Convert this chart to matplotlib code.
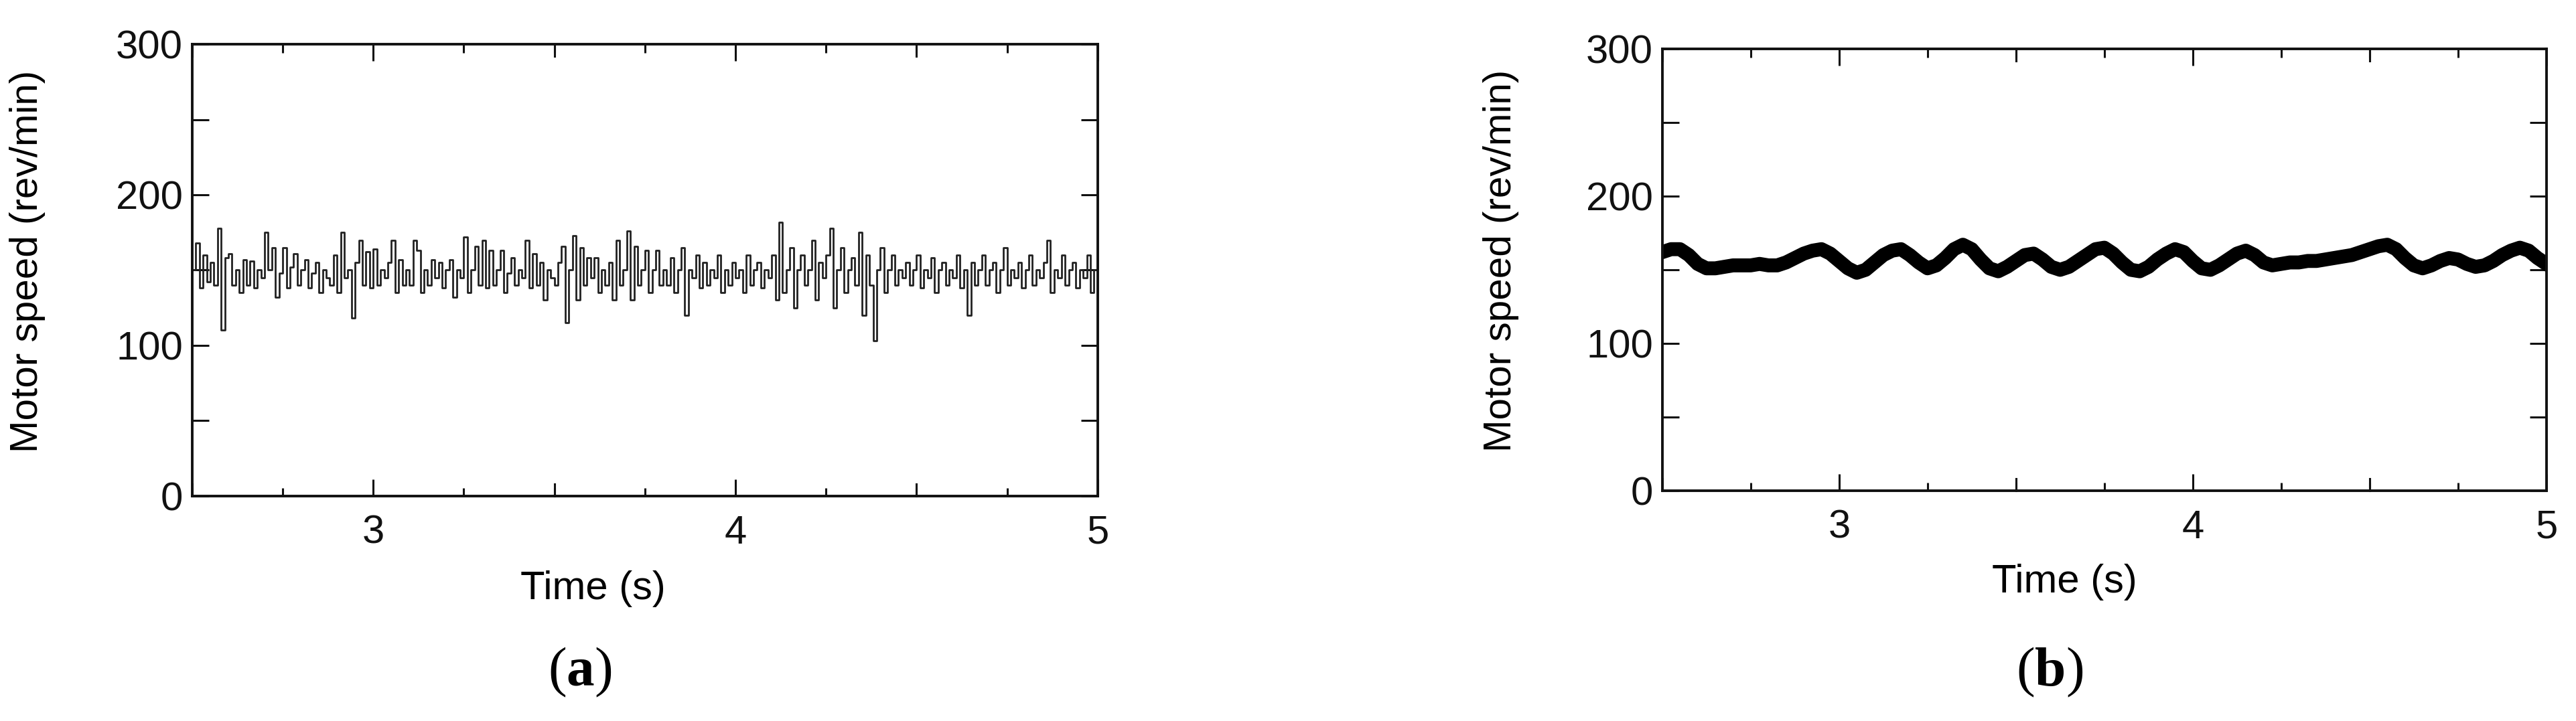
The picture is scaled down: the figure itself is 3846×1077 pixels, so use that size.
import matplotlib.pyplot as plt
from matplotlib.ticker import MultipleLocator, FixedLocator

# (a) motor speed, step samples every 0.01 s from 2.5 s (rev/min)
t_a_start = 2.5
t_a_step = 0.01
speed_a = [150, 168, 138, 160, 142, 155, 140, 178, 110, 158,
           161, 140, 150, 135, 157, 140, 156, 138, 150, 145,
           175, 150, 165, 132, 148, 165, 138, 152, 161, 140,
           150, 157, 138, 148, 155, 135, 150, 145, 140, 160,
           135, 175, 145, 150, 118, 155, 170, 140, 162, 138,
           164, 140, 150, 145, 155, 170, 135, 157, 140, 150,
           140, 170, 163, 135, 150, 140, 157, 145, 155, 138,
           150, 157, 132, 150, 145, 172, 135, 150, 166, 140,
           170, 138, 163, 140, 150, 163, 135, 148, 158, 140,
           150, 145, 170, 138, 161, 140, 155, 130, 150, 145,
           140, 155, 166, 115, 150, 173, 130, 165, 140, 158,
           145, 158, 135, 150, 140, 155, 130, 170, 140, 150,
           176, 130, 166, 140, 150, 163, 135, 150, 163, 140,
           150, 140, 158, 135, 150, 165, 120, 150, 145, 160,
           138, 155, 140, 150, 145, 160, 135, 150, 140, 155,
           145, 150, 135, 160, 140, 150, 155, 138, 150, 145,
           160, 130, 182, 135, 150, 165, 125, 150, 160, 140,
           150, 170, 130, 155, 145, 160, 178, 125, 150, 165,
           135, 150, 158, 140, 175, 120, 160, 140, 103, 150,
           165, 135, 150, 160, 140, 150, 145, 155, 140, 150,
           160, 138, 150, 145, 158, 135, 150, 155, 140, 150,
           145, 160, 138, 150, 120, 155, 140, 150, 160, 140,
           150, 155, 135, 150, 165, 140, 150, 145, 155, 138,
           150, 160, 140, 150, 145, 155, 170, 135, 150, 145,
           160, 140, 150, 155, 138, 150, 145, 160, 135, 150]

# (b) motor speed, centre of the trace every 0.025 s (rev/min)
t_b_start = 2.5
t_b_step = 0.025
speed_b = [162, 164, 164, 160, 154, 151, 151, 152, 153, 153,
           153, 154, 153, 153, 155, 158, 161, 163, 164, 161,
           156, 151, 148, 150, 155, 160, 163, 164, 160, 155,
           151, 153, 158, 164, 167, 164, 157, 151, 149, 152,
           156, 160, 161, 157, 152, 150, 152, 156, 160, 164,
           165, 161, 155, 150, 149, 152, 157, 161, 164, 162,
           156, 151, 150, 153, 157, 161, 163, 160, 155, 153,
           154, 155, 155, 156, 156, 157, 158, 159, 160, 162,
           164, 166, 167, 164, 158, 153, 151, 153, 156, 158,
           157, 154, 152, 153, 156, 160, 163, 165, 163, 158,
           154]

plt.rcParams['font.family'] = ['Liberation Sans', 'DejaVu Sans']
plt.rcParams['mathtext.fontset'] = 'custom'
plt.rcParams['mathtext.bf'] = 'Liberation Serif:bold'

fig = plt.figure(figsize=(38.46, 10.77), dpi=100)
ax_a = fig.add_axes([0.0746, 0.312, 0.3515, 0.6267])
ax_b = fig.add_axes([0.6453, 0.3194, 0.3432, 0.6128])

t_a = [t_a_start + i * t_a_step for i in range(len(speed_a) + 1)]
ax_a.step(t_a, speed_a + [speed_a[-1]], where='post', color='#222222', lw=2.0)

t_b = [t_b_start + i * t_b_step for i in range(len(speed_b))]
ax_b.plot(t_b, speed_b, color='black', lw=15, solid_joinstyle='round')

for ax, xlab_x in [(ax_a, 0.443), (ax_b, 0.455)]:
    ax.set_xlim(2.5, 5)
    ax.set_ylim(0, 300)
    ax.xaxis.set_major_locator(FixedLocator([3, 4, 5]))
    ax.xaxis.set_minor_locator(MultipleLocator(0.25))
    ax.yaxis.set_major_locator(MultipleLocator(100))
    ax.yaxis.set_minor_locator(MultipleLocator(50))
    ax.tick_params(which='both', direction='in', top=True, right=True, width=2.2, colors='#111111')
    ax.tick_params(axis='x', which='major', length=18, pad=20, labelsize=43)
    ax.tick_params(axis='x', which='minor', length=9)
    ax.tick_params(axis='y', which='both', length=18, pad=10, labelsize=43)
    for sp in ax.spines.values():
        sp.set_linewidth(2.8)
        sp.set_color('#111111')
    ax.set_xlabel('Time (s)', fontsize=43)
    ax.xaxis.set_label_coords(xlab_x, -0.165)
    ax.set_ylabel('Motor speed (rev/min)', fontsize=42)
    ax.yaxis.set_label_coords(-0.162, 0.52)

# long ticks at the half seconds
for ax in (ax_a, ax_b):
    for x in [2.5, 3.5, 4.5]:
        ax.plot([x, x], [0, 8], color='#111111', lw=2.2, clip_on=False)
        ax.plot([x, x], [300, 292], color='#111111', lw=2.2, clip_on=False)

fig.text(866 / 3846, 1 - 1004 / 1077, r'($\mathbf{a}$)', fontsize=60, family='Liberation Serif',
         ha='center', va='center')
fig.text(3060 / 3846, 1 - 1004 / 1077, r'($\mathbf{b}$)', fontsize=60, family='Liberation Serif',
         ha='center', va='center')

fig.savefig('out.png', dpi=100, facecolor='white')
